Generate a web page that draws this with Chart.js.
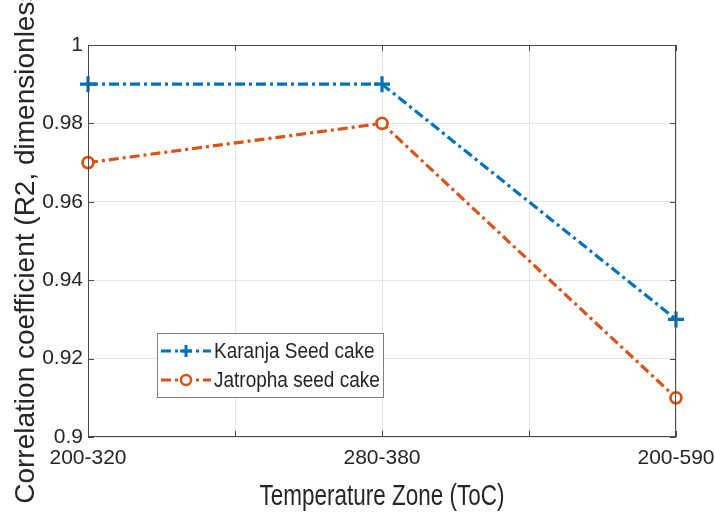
<!DOCTYPE html>
<html>
<head>
<meta charset="utf-8">
<script src="https://cdn.jsdelivr.net/npm/chart.js@4.4.0/dist/chart.umd.min.js"></script>
<style>
  html, body { margin: 0; padding: 0; background: #fff; }
  #wrap { width: 715px; height: 519px; }
</style>
</head>
<body>
<div id="wrap"><canvas id="chart"></canvas></div>
<script>
const zones = ['200-320', '280-380', '200-590'];
const karanja = [0.99, 0.99, 0.93];
const jatropha = [0.97, 0.98, 0.91];
const yTicks = [0.9, 0.92, 0.94, 0.96, 0.98, 1];
const xTitle = 'Temperature Zone (ToC)';

const FONT = "'Liberation Sans', Arial, sans-serif";
const BLUE = '#0072BD';
const ORANGE = '#D95319';
const AXIS = '#262626';

const toPoints = arr => arr.map((v, i) => ({ x: i, y: v }));

// frame, inward ticks, x title and legend box drawn the MATLAB way
const matlabBox = {
    id: 'matlabBox',
    afterDraw(chart) {
        const { ctx, chartArea: a, scales } = chart;
        ctx.save();
        ctx.strokeStyle = '#4a4a4a';
        ctx.lineWidth = 1;
        ctx.strokeRect(a.left + 0.5, a.top + 0.5, a.right - a.left - 1, a.bottom - a.top - 1);
        ctx.beginPath();
        scales.x.ticks.forEach(t => {
            const px = Math.round(scales.x.getPixelForValue(t.value)) + 0.5;
            ctx.moveTo(px, a.bottom); ctx.lineTo(px, a.bottom - 6);
            ctx.moveTo(px, a.top); ctx.lineTo(px, a.top + 6);
        });
        scales.y.ticks.forEach(t => {
            const py = Math.round(scales.y.getPixelForValue(t.value)) + 0.5;
            ctx.moveTo(a.left, py); ctx.lineTo(a.left + 6, py);
            ctx.moveTo(a.right, py); ctx.lineTo(a.right - 6, py);
        });
        ctx.stroke();

        // x axis title, slightly tall glyphs like the source figure
        ctx.save();
        ctx.fillStyle = AXIS;
        ctx.font = '22.5px ' + FONT;
        ctx.textAlign = 'center';
        ctx.textBaseline = 'middle';
        ctx.translate((a.left + a.right) / 2, 497);
        ctx.scale(1, 1.3);
        ctx.fillText(xTitle, 0, 0);
        ctx.restore();

        // legend
        const w = a.right - a.left, h = a.bottom - a.top;
        const bx = Math.round(a.left + w * 0.117), by = Math.round(a.top + h * 0.735);
        const bw = 226, bh = 64;
        ctx.fillStyle = '#fff';
        ctx.fillRect(bx, by, bw, bh);
        ctx.strokeStyle = '#808080';
        ctx.lineWidth = 1;
        ctx.strokeRect(bx + 0.5, by + 0.5, bw, bh);
        chart.data.datasets.forEach((ds, i) => {
            const cy = by + 18 + i * 29;
            ctx.strokeStyle = ds.borderColor;
            ctx.lineWidth = 3;
            ctx.setLineDash(ds.borderDash);
            ctx.beginPath();
            ctx.moveTo(bx + 4, cy); ctx.lineTo(bx + 54, cy);
            ctx.stroke();
            ctx.setLineDash([]);
            const mx = bx + 29;
            ctx.beginPath();
            if (ds.pointStyle === 'cross') {
                ctx.moveTo(mx - 6, cy); ctx.lineTo(mx + 6, cy);
                ctx.moveTo(mx, cy - 6); ctx.lineTo(mx, cy + 6);
                ctx.stroke();
            } else {
                ctx.arc(mx, cy, 5, 0, Math.PI * 2);
                ctx.fillStyle = '#fff';
                ctx.fill();
                ctx.lineWidth = 2.5;
                ctx.stroke();
            }
            ctx.save();
            ctx.fillStyle = AXIS;
            ctx.font = '19px ' + FONT;
            ctx.textBaseline = 'middle';
            ctx.translate(bx + 57, cy + 1);
            ctx.scale(1, 1.2);
            ctx.fillText(ds.label, 0, 0);
            ctx.restore();
        });
        ctx.restore();
    }
};

new Chart(document.getElementById('chart'), {
    type: 'line',
    data: {
        datasets: [
            {
                label: 'Karanja Seed cake',
                data: toPoints(karanja),
                borderColor: BLUE,
                backgroundColor: BLUE,
                borderWidth: 3.2,
                borderDash: [10, 4, 3, 4],
                pointStyle: 'cross',
                pointRadius: 8,
                pointBorderWidth: 3.2,
                clip: false
            },
            {
                label: 'Jatropha seed cake',
                data: toPoints(jatropha),
                borderColor: ORANGE,
                backgroundColor: '#fff',
                borderWidth: 3.2,
                borderDash: [10, 4, 3, 4],
                pointStyle: 'circle',
                pointRadius: 5.5,
                pointBorderWidth: 2.8,
                clip: false
            }
        ]
    },
    options: {
        responsive: true,
        maintainAspectRatio: false,
        animation: false,
        layout: { padding: { top: 45, right: 39, left: 0, bottom: 0 } },
        plugins: { legend: { display: false }, tooltip: { enabled: false } },
        scales: {
            x: {
                type: 'linear',
                min: 0,
                max: zones.length - 1,
                afterFit: s => { s.height = 82; s.paddingLeft = 0; s.paddingRight = 0; },
                afterBuildTicks: s => {
                    s.ticks = [0, 0.5, 1, 1.5, 2].map(v => ({ value: v }));
                },
                border: { display: false },
                grid: { color: '#e3e3e3', drawTicks: false },
                ticks: {
                    padding: 9,
                    color: AXIS,
                    font: { family: FONT, size: 21 },
                    maxRotation: 0,
                    autoSkip: false,
                    callback: v => Number.isInteger(v) ? zones[v] : ''
                },
                title: { display: false }
            },
            y: {
                min: 0.9,
                max: 1,
                afterFit: s => { s.width = 88; s.paddingTop = 0; s.paddingBottom = 0; },
                afterBuildTicks: s => {
                    s.ticks = yTicks.map(v => ({ value: v }));
                },
                border: { display: false },
                grid: { color: '#e3e3e3', drawTicks: false },
                ticks: {
                    padding: 5,
                    color: AXIS,
                    font: { family: FONT, size: 21 },
                    callback: v => String(+v.toFixed(2))
                },
                title: {
                    display: true,
                    text: 'Correlation coefficient (R2, dimensionless)',
                    color: AXIS,
                    font: { family: FONT, size: 28 },
                    padding: { top: 9, bottom: 0 }
                }
            }
        }
    },
    plugins: [matlabBox]
});
</script>
</body>
</html>
